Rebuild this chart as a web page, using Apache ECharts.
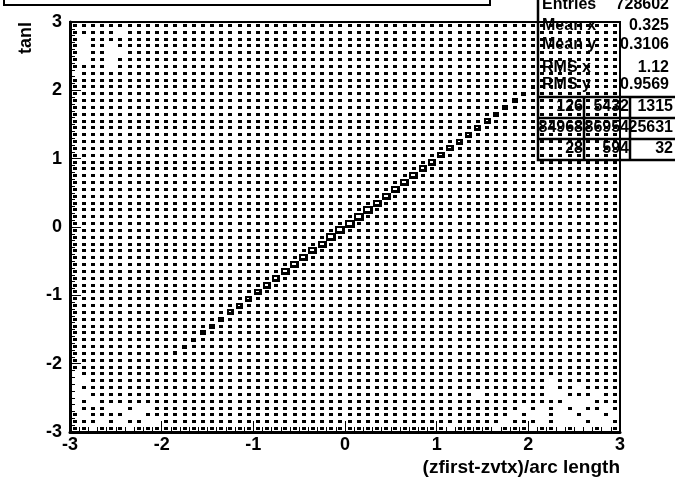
<!DOCTYPE html>
<html>
<head>
<meta charset="utf-8">
<script src="https://cdn.jsdelivr.net/npm/echarts@6/dist/echarts.min.js"></script>
</head>
<body style="margin:0;background:#fff">
<div id="main" style="width:675px;height:482px;"></div>
<script>
// histogram binning (60 x 60 bins on [-3, 3])
var axisMin = -3, axisMax = 3, nBins = 60, binW = 0.1;
var tickLabels = ['-3', '-2', '-1', '0', '1', '2', '3'];

// typical content of a background bin
var bgCount = 180;
// bins that show no box, per y-bin row (row 0 = bottom)
var emptyCells = {
  58: [5], 57: [1], 56: [1, 4], 55: [1, 4, 5], 54: [1, 4], 53: [4], 52: [0],
  8: [0], 7: [0, 1, 52], 6: [0, 52, 55], 5: [0, 1, 44, 52, 53, 57],
  4: [0, 2, 54, 55, 56],
  3: [0, 4, 5, 7, 8, 49, 51, 53, 55, 58],
  2: [1, 6, 7, 48, 50, 51, 53, 54, 56, 57, 59],
  1: [3, 5, 8, 9, 47, 51, 53, 54, 55, 57, 58],
  0: [2, 6, 41, 46, 50, 53, 55, 56, 58]
};
// diagonal band (x bin == y bin), starting at bin 11
var diagFirstBin = 11;
var diagCounts = [420, 640, 910, 1370, 1590, 1660, 2180, 2250, 2860, 2930, 3610, 3700,
  4050, 4110, 4480, 4950, 5010, 5430, 6420, 6500, 5490, 5400, 4990, 4940, 4540, 4480,
  4090, 4030, 3680, 3240, 2910, 2850, 2540, 2230, 2180, 1640, 1600, 1350, 920, 410];

var statsRows = [
  ['Entries', '728602', 5],
  ['Mean x', '0.325', 26],
  ['Mean y', '0.3106', 45],
  ['RMS x', '1.12', 68],
  ['RMS y', '0.9569', 85]
];
var flowTable = [
  ['126', '5432', '1315'],
  ['84968', '86954', '25631'],
  ['28', '594', '32']
];

var cells = [];
for (var j = 0; j < nBins; j++) {
  var empt = emptyCells[j] || [];
  for (var i = 0; i < nBins; i++) {
    var c = empt.indexOf(i) >= 0 ? 0 : bgCount;
    var d = i - diagFirstBin;
    if (i == j && d >= 0 && d < diagCounts.length) c = diagCounts[d];
    if (c > 0) cells.push([axisMin + (i + 0.5) * binW, axisMin + (j + 0.5) * binW, c]);
  }
}
var zMax = Math.max.apply(null, diagCounts);
var boxScale = 0.9;

var font = 'Liberation Sans, Arial, sans-serif';
var chart = echarts.init(document.getElementById('main'));

var graphics = [
  {type: 'rect', shape: {x: 4, y: -10, width: 486, height: 15}, style: {fill: 'none', stroke: '#000', lineWidth: 2}},
  {type: 'rect', shape: {x: 538, y: -6, width: 140, height: 166}, style: {fill: 'none', stroke: '#000', lineWidth: 2.5}},
  {type: 'text', x: 620, y: 468, style: {text: '(zfirst-zvtx)/arc length', font: 'bold 19px ' + font, fill: '#000', align: 'right', verticalAlign: 'middle'}},
  {type: 'text', x: 35, y: 22, rotation: Math.PI / 2, style: {text: 'tanl', font: 'bold 18px ' + font, fill: '#000', align: 'right', verticalAlign: 'bottom'}}
];
[97, 118, 139].forEach(function (y) {
  graphics.push({type: 'line', shape: {x1: 538, y1: y, x2: 675, y2: y}, style: {stroke: '#000', lineWidth: 2.5}});
});
[584, 630].forEach(function (x) {
  graphics.push({type: 'line', shape: {x1: x, y1: 97, x2: x, y2: 160}, style: {stroke: '#000', lineWidth: 2.5}});
});
statsRows.forEach(function (r) {
  graphics.push({type: 'text', x: 542, y: r[2], style: {text: r[0], font: 'bold 16px ' + font, fill: '#000', verticalAlign: 'middle'}});
  graphics.push({type: 'text', x: 669, y: r[2], style: {text: r[1], font: 'bold 16px ' + font, fill: '#000', align: 'right', verticalAlign: 'middle'}});
});
var colRight = [583, 629, 673];
flowTable.forEach(function (row, k) {
  row.forEach(function (t, m) {
    graphics.push({type: 'text', x: colRight[m], y: 107 + k * 21, style: {text: t, font: 'bold 16px ' + font, fill: '#000', align: 'right', verticalAlign: 'middle'}});
  });
});

function axisCommon(margin) {
  return {
    type: 'value', min: axisMin, max: axisMax, interval: 1,
    axisLine: {show: true, onZero: false, lineStyle: {color: '#000', width: 3}},
    axisTick: {show: true, inside: true, length: 11, lineStyle: {color: '#000', width: 1}},
    minorTick: {show: true, splitNumber: 10, length: 5, lineStyle: {color: '#000', width: 1}},
    splitLine: {show: false},
    axisLabel: {
      color: '#000', fontSize: 18, fontWeight: 'bold', fontFamily: font, margin: margin,
      formatter: function (v) { return tickLabels[Math.round(v - axisMin)]; }
    }
  };
}

chart.setOption({
  animation: false,
  backgroundColor: '#fff',
  grid: {left: 70, right: 55, top: 22, bottom: 50, show: true, borderColor: '#000', borderWidth: 2},
  xAxis: axisCommon(4),
  yAxis: axisCommon(8),
  graphic: {elements: graphics},
  series: [{
    type: 'custom',
    progressive: 0,
    data: cells,
    renderItem: function (params, api) {
      var c = api.value(2);
      var p = api.coord([api.value(0), api.value(1)]);
      var s = api.size([binW, binW]);
      var r = boxScale * Math.sqrt(c / zMax);
      // outer size of the box outline
      var ow = Math.max(4, Math.round(r * Math.abs(s[0])) + 2);
      var oh = Math.max(3, Math.round(r * Math.abs(s[1])) + 2);
      var x = Math.round(p[0] - ow / 2), y = Math.round(p[1] - oh / 2);
      var kids = [{type: 'rect', shape: {x: x, y: y, width: ow, height: oh}, style: {fill: '#000'}}];
      if (ow > 6 && oh > 5) {
        kids.push({type: 'rect', shape: {x: x + 2, y: y + 2, width: ow - 5, height: oh - 5}, style: {fill: '#fff'}});
      }
      return {type: 'group', children: kids};
    }
  }]
});
</script>
</body>
</html>
